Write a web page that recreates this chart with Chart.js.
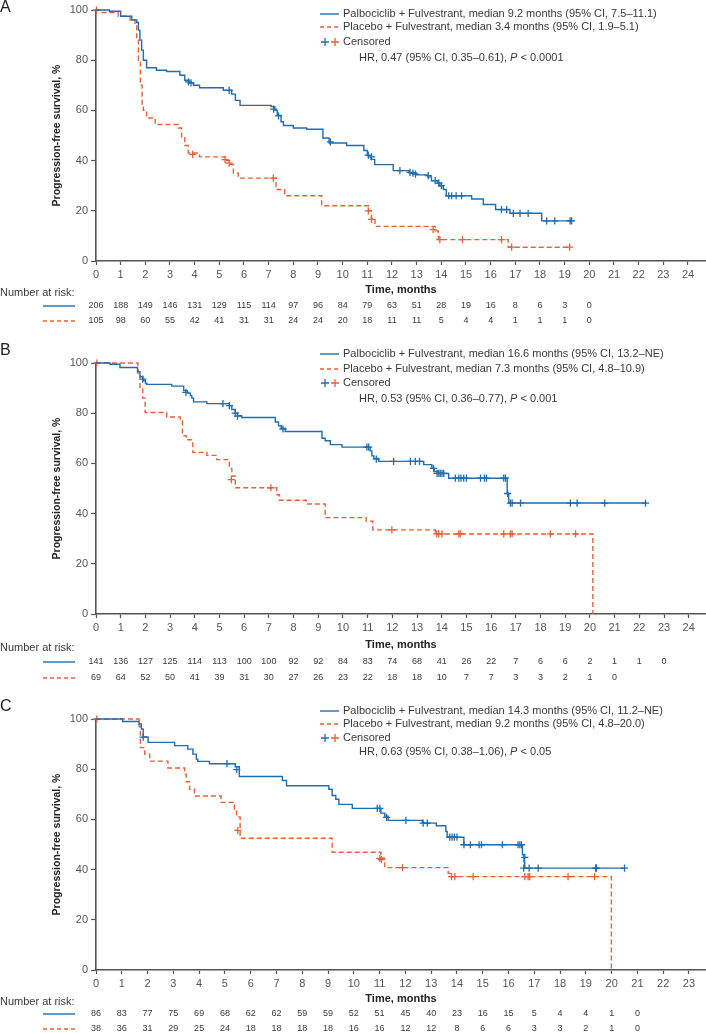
<!DOCTYPE html>
<html>
<head>
<meta charset="utf-8">
<script src="https://cdn.jsdelivr.net/npm/chart.js@4/dist/chart.umd.min.js"></script>
<style>
  body { margin: 0; background: #fff; }
  canvas { position: absolute; left: 0; }
</style>
</head>
<body>
<canvas id="chartA" width="706" height="330" style="top:0px"></canvas>
<canvas id="chartB" width="706" height="353" style="top:330px"></canvas>
<canvas id="chartC" width="706" height="350" style="top:683px"></canvas>
<script>
const FONT = '"Liberation Sans", Arial, sans-serif';
const BLUE = '#1f6db2';
const ORANGE = '#e8603a';
const TEXT = '#3a3a3a';

// x tick labels (months)
const monthsA = [0,1,2,3,4,5,6,7,8,9,10,11,12,13,14,15,16,17,18,19,20,21,22,23,24];
const monthsB = [0,1,2,3,4,5,6,7,8,9,10,11,12,13,14,15,16,17,18,19,20,21,22,23,24];
const monthsC = [0,1,2,3,4,5,6,7,8,9,10,11,12,13,14,15,16,17,18,19,20,21,22,23];
const pfsTicks = [0, 20, 40, 60, 80, 100];

// ---- Panel A ----
const palboTimeA = [0,0.55,1.0,1.45,1.65,1.72,1.78,1.85,1.92,2.05,2.45,2.86,3.4,3.6,3.78,3.95,4.2,5.16,5.5,5.65,5.84,7.1,7.25,7.35,7.5,7.6,8.0,8.54,9.2,9.45,10.16,10.86,11.0,11.15,11.3,12.05,12.7,13.0,13.45,13.6,13.85,13.94,14.08,14.2,15.23,15.7,16.2,16.78,18.07,19.3];
const palboSurvA = [100,99.5,97.5,96,95,92,88,84,80,77,76,75.5,74,72,71,70,69,68,66.5,64,62,61.5,60,58,55.5,54,53,52.5,49,47,46,44,42,40.5,38.4,36,35,34.3,33.5,32,31,30,28.5,26,24.7,22.5,20.5,19,16,16];
const palboCensTA = [3.75,3.85,5.4,7.2,7.4,9.5,11.04,11.17,12.32,12.73,12.85,12.95,13.47,13.75,13.9,14.0,14.3,14.42,14.6,14.82,16.44,16.65,16.92,17.19,17.52,18.27,18.6,19.22,19.28];
const palboCensSA = [71.4,71,68,60.5,57.8,47.5,42.2,41.5,36,35.3,35,34.6,34,32,31,30,26,26,26,26,20.5,20.5,19,19,19,16,16,16,16];
const placeboTimeA = [0,0.16,0.9,1.38,1.58,1.65,1.72,1.8,1.87,1.92,2.05,2.4,3.34,3.47,3.6,3.74,4.2,5.3,5.45,5.57,5.77,7.3,7.65,9.15,11.05,11.17,11.31,13.75,13.88,16.71,19.2];
const placeboSurvA = [100,99,97.5,96,94,88,80,70,62,60,57,54.4,53,49,46,43,41.5,40,38.5,35,33,28.5,26,22,20,17,13.8,12,8.5,5.5,5.5];
const placeboCensTA = [0.02,3.92,5.23,5.4,7.19,11.04,11.17,13.67,13.94,14.86,16.44,16.85,19.2];
const placeboCensSA = [100,42.5,40.4,39,33,20,16.6,12.5,8.5,8.5,8.5,5.5,5.5];
const riskPalboA = [206,188,149,146,131,129,115,114,97,96,84,79,63,51,28,19,16,8,6,3,0];
const riskPlaceboA = [105,98,60,55,42,41,31,31,24,24,20,18,11,11,5,4,4,1,1,1,0];
const legendA = ['Palbociclib + Fulvestrant, median 9.2 months (95% CI, 7.5\u201311.1)',
                 'Placebo + Fulvestrant, median 3.4 months (95% CI, 1.9\u20135.1)',
                 'Censored',
                 ['HR, 0.47 (95% CI, 0.35\u20130.61), ', 'P', ' < 0.0001']];

// ---- Panel B ----
const palboTimeB = [0,0.57,0.97,1.68,1.78,1.9,2.0,2.05,3.07,3.55,3.7,3.82,3.88,3.95,4.49,5.4,5.5,5.64,5.73,5.9,7.26,7.39,7.5,7.66,9.15,9.28,9.49,9.96,11.1,11.17,11.25,11.44,13.27,13.6,13.7,13.85,14.28,16.65,16.71,22.3];
const palboSurvB = [100,99.5,98.2,96.5,94.5,93,92,91.5,90.8,89,88,87,86,84.5,83.8,83,81.5,80,79,78.3,76.5,75,74,72.7,70,69,67.5,66.5,65,63,62,60.8,59.5,58,56.8,56,54.1,48,44.2,44.2];
const palboCensTB = [1.89,3.64,5.14,5.4,5.64,5.73,7.57,10.97,11.04,11.35,12.05,12.73,12.93,13.1,13.67,13.81,13.88,13.94,14.01,14.08,14.55,14.69,14.78,14.89,15.0,15.57,15.73,15.81,16.51,16.58,16.67,16.78,16.85,17.19,19.21,19.48,20.6,22.25];
const palboCensSB = [93.6,88.3,83.8,83,80,78.8,73.7,66.5,66.5,61.7,60.8,60.8,60.8,60.8,58,56,56,56,56,56,54.1,54.1,54.1,54.1,54.1,54.1,54.1,54.1,54.1,54.1,48,44.2,44.2,44.2,44.2,44.2,44.2,44.2];
const placeboTimeB = [0,1.7,1.78,1.89,1.99,2.86,3.41,3.5,3.65,3.92,4.49,4.89,5.4,5.5,5.64,7.32,7.43,8.51,9.28,10.94,11.21,13.74,20.12];
const placeboSurvB = [100,95,90,86,80.3,78.5,77,71,69.4,64.4,63.2,61.5,58,55,50.3,47.5,45.3,43.8,38.4,37,33.5,31.9,0];
const placeboCensTB = [0.03,5.48,7.08,11.98,13.8,13.88,14.01,14.69,14.75,16.51,16.78,16.85,18.4,19.42];
const placeboCensSB = [100,53.5,50.3,33.5,31.9,31.9,31.9,31.9,31.9,31.9,31.9,31.9,31.9,31.9];
const riskPalboB = [141,136,127,125,114,113,100,100,92,92,84,83,74,68,41,26,22,7,6,6,2,1,1,0];
const riskPlaceboB = [69,64,52,50,41,39,31,30,27,26,23,22,18,18,10,7,7,3,3,2,1,0];
const legendB = ['Palbociclib + Fulvestrant, median 16.6 months (95% CI, 13.2\u2013NE)',
                 'Placebo + Fulvestrant, median 7.3 months (95% CI, 4.8\u201310.9)',
                 'Censored',
                 ['HR, 0.53 (95% CI, 0.36\u20130.77), ', 'P', ' < 0.001']];

// ---- Panel C ----
const palboTimeC = [0,1.03,1.67,1.76,1.83,2.02,3.05,3.56,3.76,3.89,3.95,4.4,5.4,5.56,7.23,7.39,9.03,9.16,9.3,9.42,9.94,11.05,11.2,11.33,12.66,13.2,13.57,13.62,14.27,16.54,16.6,16.63,20.5];
const palboSurvC = [100,99,98,96,92.8,90.7,89.4,88,86,84,83.1,82.2,81,77.1,75.5,73.4,72,69.5,68,66,64.4,62.5,61.3,59.6,58.5,57.5,55.2,52.9,49.9,45.9,43,40.6,40.6];
const palboCensTC = [1.83,5.08,5.46,10.91,11.01,11.27,12.02,12.69,12.85,13.72,13.81,13.9,14.0,14.27,14.52,14.86,14.95,15.76,16.37,16.44,16.5,16.63,16.59,16.8,17.15,19.38,19.41,20.5];
const palboCensSC = [92.8,82.2,79.8,64.4,64.4,60.8,59.6,58.5,58.5,52.9,52.9,52.9,52.9,49.9,49.9,49.9,49.9,49.9,49.9,49.9,49.9,44.9,40.6,40.6,40.6,40.6,40.6,40.6];
const placeboTimeC = [0,1.67,1.72,1.89,2.08,2.79,3.44,3.5,3.63,3.82,4.85,5.37,5.45,5.59,9.16,11.05,11.2,13.66,13.75,19.99];
const placeboSurvC = [100,97,88.6,86,83.2,80.5,78,75,72,69.3,66.8,64,61,52.5,46.9,44.5,40.8,38.5,37.2,0];
const placeboCensTC = [0.03,5.5,11.01,11.07,11.89,13.79,13.92,14.63,16.63,16.76,16.82,18.31,19.34];
const placeboCensSC = [100,55.6,44.5,44,40.8,37.2,37.2,37.2,37.2,37.2,37.2,37.2,37.2];
const riskPalboC = [86,83,77,75,69,68,62,62,59,59,52,51,45,40,23,16,15,5,4,4,1,0];
const riskPlaceboC = [38,36,31,29,25,24,18,18,18,18,16,16,12,12,8,6,6,3,3,2,1,0];
const legendC = ['Palbociclib + Fulvestrant, median 14.3 months (95% CI, 11.2\u2013NE)',
                 'Placebo + Fulvestrant, median 9.2 months (95% CI, 4.8\u201320.0)',
                 'Censored',
                 ['HR, 0.63 (95% CI, 0.38\u20131.06), ', 'P', ' < 0.05']];

const pts = (ts, ss) => ts.map((t, i) => ({ x: t, y: ss[i] }));

function drawCross(ctx, x, y, r, color) {
  ctx.save();
  ctx.strokeStyle = color;
  ctx.lineWidth = 1.3;
  ctx.beginPath();
  ctx.moveTo(x - r, y); ctx.lineTo(x + r, y);
  ctx.moveTo(x, y - r); ctx.lineTo(x, y + r);
  ctx.stroke();
  ctx.restore();
}

// legend, panel letter, axis titles and number-at-risk table
const kmDecor = {
  id: 'kmDecor',
  afterDraw(chart, args, o) {
    const ctx = chart.ctx;
    const area = chart.chartArea;
    const xs = chart.scales.x;
    ctx.save();

    // panel letter
    ctx.fillStyle = '#222';
    ctx.font = '16px ' + FONT;
    ctx.textAlign = 'left';
    ctx.textBaseline = 'middle';
    ctx.fillText(o.letter, 0, o.letterY);

    // y title
    ctx.save();
    ctx.translate(57, (area.top + area.bottom) / 2);
    ctx.rotate(-Math.PI / 2);
    ctx.font = 'bold 10.5px ' + FONT;
    ctx.fillStyle = '#222';
    ctx.textAlign = 'center';
    ctx.fillText('Progression-free survival, %', 0, 0);
    ctx.restore();

    // x title
    ctx.font = 'bold 11px ' + FONT;
    ctx.fillStyle = '#222';
    ctx.textAlign = 'center';
    ctx.fillText('Time, months', (area.left + area.right) / 2, area.bottom + o.titleOff);

    // legend
    const lx = 320, tx = 343;
    const ly = o.legendY;
    ctx.font = '11px ' + FONT;
    ctx.fillStyle = TEXT;
    ctx.textAlign = 'left';
    ctx.lineWidth = 1.4;
    ctx.strokeStyle = BLUE;
    ctx.setLineDash([]);
    ctx.beginPath(); ctx.moveTo(lx, ly[0]); ctx.lineTo(lx + 19, ly[0]); ctx.stroke();
    ctx.strokeStyle = ORANGE;
    ctx.setLineDash([4, 3]);
    ctx.beginPath(); ctx.moveTo(lx, ly[1]); ctx.lineTo(lx + 19, ly[1]); ctx.stroke();
    ctx.setLineDash([]);
    drawCross(ctx, lx + 5, ly[2], 4, BLUE);
    drawCross(ctx, lx + 15, ly[2], 4, ORANGE);
    ctx.fillText(o.legend[0], tx, ly[0]);
    ctx.fillText(o.legend[1], tx, ly[1]);
    ctx.fillText(o.legend[2], tx, ly[2]);
    let hx = 359;
    o.legend[3].forEach((part, i) => {
      ctx.font = (i === 1 ? 'italic ' : '') + '11px ' + FONT;
      ctx.fillText(part, hx, ly[3]);
      hx += ctx.measureText(part).width;
    });

    // number at risk
    ctx.font = '11px ' + FONT;
    ctx.fillStyle = TEXT;
    ctx.textAlign = 'left';
    ctx.fillText('Number at risk:', 0, area.bottom + o.titleOff + 3);
    const rows = [[o.riskPalbo, BLUE, []], [o.riskPlacebo, ORANGE, [4, 3]]];
    rows.forEach(([vals, col, dash], r) => {
      const y = area.bottom + o.riskOff[r];
      ctx.strokeStyle = col;
      ctx.lineWidth = 1.4;
      ctx.setLineDash(dash);
      ctx.beginPath(); ctx.moveTo(43, y); ctx.lineTo(75, y); ctx.stroke();
      ctx.setLineDash([]);
      ctx.font = '9px ' + FONT;
      ctx.fillStyle = TEXT;
      ctx.textAlign = 'center';
      vals.forEach((v, j) => {
        ctx.fillText(String(v), xs.getPixelForValue(o.months[j]), y);
      });
    });
    ctx.restore();
  }
};

function makeChart(id, d) {
  const base = { fill: false, pointRadius: 0, borderWidth: 1.4, clip: false };
  const cens = { showLine: false, pointStyle: 'cross', pointRadius: 3.6, pointBorderWidth: 1.3, clip: false };
  new Chart(document.getElementById(id), {
    type: 'line',
    data: {
      datasets: [
        Object.assign({ data: pts(d.pT, d.pS), borderColor: BLUE, stepped: true }, base),
        Object.assign({ data: pts(d.qT, d.qS), borderColor: ORANGE, borderDash: [5, 3], stepped: true }, base),
        Object.assign({ data: pts(d.pcT, d.pcS), pointBorderColor: BLUE, borderColor: BLUE }, cens),
        Object.assign({ data: pts(d.qcT, d.qcS), pointBorderColor: ORANGE, borderColor: ORANGE }, cens)
      ]
    },
    options: {
      responsive: false,
      animation: false,
      layout: { autoPadding: false, padding: { top: d.top, bottom: d.bottom, left: 0, right: 0 } },
      plugins: {
        legend: { display: false },
        tooltip: { enabled: false },
        kmDecor: {
          letter: d.letter, letterY: d.letterY, legend: d.legend, legendY: d.legendY,
          titleOff: d.titleOff, riskOff: d.riskOff, months: d.months,
          riskPalbo: d.riskPalbo, riskPlacebo: d.riskPlacebo
        }
      },
      scales: {
        x: {
          type: 'linear',
          min: 0,
          max: d.xMax,
          afterBuildTicks: (s) => { s.ticks = d.months.map(v => ({ value: v })); },
          afterFit: (s) => { s.height = 20; s.paddingLeft = 0; s.paddingRight = 0; },
          grid: { display: true, drawOnChartArea: false, drawTicks: true, tickLength: 4, color: '#555', tickWidth: 1.2 },
          border: { display: true, color: '#555', width: 1.6 },
          ticks: { color: '#555', font: { family: FONT, size: 11 }, padding: 3, maxRotation: 0, autoSkip: false }
        },
        y: {
          min: 0,
          max: 100,
          afterBuildTicks: (s) => { s.ticks = pfsTicks.map(v => ({ value: v })); },
          afterFit: (s) => { s.width = 96; s.paddingTop = 0; s.paddingBottom = 0; },
          grid: { display: true, drawOnChartArea: false, drawTicks: true, tickLength: 5, color: '#555', tickWidth: 1.2 },
          border: { display: true, color: '#555', width: 1.6 },
          ticks: { color: '#555', font: { family: FONT, size: 11 }, padding: 3 }
        }
      }
    },
    plugins: [kmDecor]
  });
}

makeChart('chartA', {
  pT: palboTimeA, pS: palboSurvA, qT: placeboTimeA, qS: placeboSurvA,
  pcT: palboCensTA, pcS: palboCensSA, qcT: placeboCensTA, qcS: placeboCensSA,
  riskPalbo: riskPalboA, riskPlacebo: riskPlaceboA, months: monthsA, legend: legendA,
  xMax: 24.73, top: 10, bottom: 49, letter: 'A', letterY: 8,
  legendY: [14, 27, 42, 58], titleOff: 29, riskOff: [45, 60]
});
makeChart('chartB', {
  pT: palboTimeB, pS: palboSurvB, qT: placeboTimeB, qS: placeboSurvB,
  pcT: palboCensTB, pcS: palboCensSB, qcT: placeboCensTB, qcS: placeboCensSB,
  riskPalbo: riskPalboB, riskPlacebo: riskPlaceboB, months: monthsB, legend: legendB,
  xMax: 24.7, top: 33, bottom: 49, letter: 'B', letterY: 21,
  legendY: [24, 39, 53, 69], titleOff: 31, riskOff: [48, 64]
});
makeChart('chartC', {
  pT: palboTimeC, pS: palboSurvC, qT: placeboTimeC, qS: placeboSurvC,
  pcT: palboCensTC, pcS: palboCensSC, qcT: placeboCensTC, qcS: placeboCensSC,
  riskPalbo: riskPalboC, riskPlacebo: riskPlaceboC, months: monthsC, legend: legendC,
  xMax: 23.66, top: 36, bottom: 43, letter: 'C', letterY: 24,
  legendY: [28, 41, 55, 69], titleOff: 29, riskOff: [44, 59]
});
</script>
</body>
</html>
